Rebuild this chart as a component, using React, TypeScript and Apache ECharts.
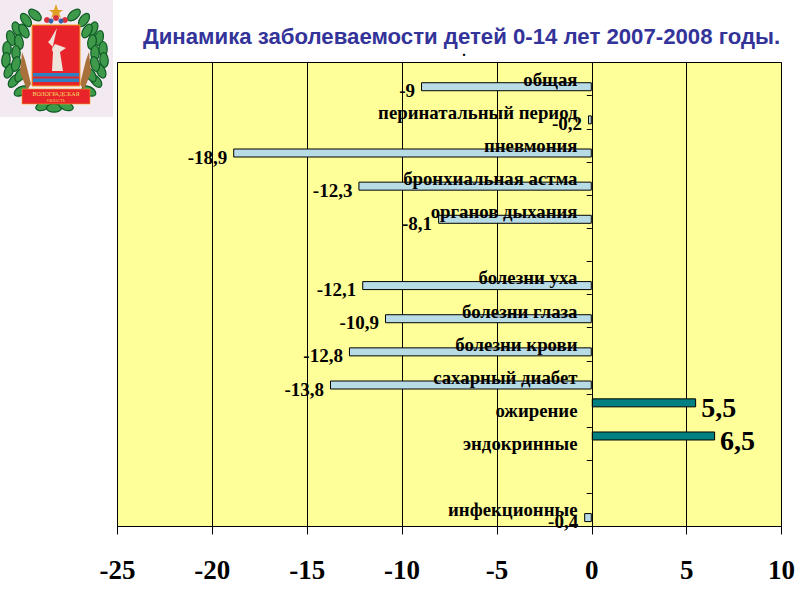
import React, { useEffect, useRef } from "react";
import * as echarts from "echarts";

const categories = ["общая", "перинатальный период", "пневмония", "бронхиальная астма", "органов дыхания", "", "болезни уха", "болезни глаза", "болезни крови", "сахарный диабет", "ожирение", "эндокринные", "", "инфекционные"];
const decline = [-9, -0.2, -18.9, -12.3, -8.1, null, -12.1, -10.9, -12.8, -13.8, null, null, null, -0.4];
const growth = [null, null, null, null, null, null, null, null, null, null, 5.5, 6.5, null, null];
const xTicks = { min: -25, max: 10, interval: 5 };
const title = "Динамика заболеваемости детей 0-14 лет 2007-2008 годы.";

const comma = (p: any) => String(p.value).replace(".", ",");
const SERIF = "'Liberation Serif', serif";

// logo wreath leaves: x, y, rotation in degrees
const leaves = [
  [35, 15, -50], [26, 20, -35], [17, 29, -25], [11, 38, -15], [7, 49, 0], [6, 60, 5], [9, 71, 25], [14, 81, 40], [21, 91, 60],
  [24, 31, -30], [19, 42, -10], [16, 53, 0], [16, 64, 15], [20, 75, 30],
  [74, 15, 50], [84, 20, 35], [93, 29, 25], [99, 38, 15], [103, 49, 0], [104, 60, -5], [101, 71, -25], [96, 81, -40], [89, 91, -60],
  [87, 31, 30], [92, 42, 10], [95, 53, 0], [95, 64, -15], [91, 75, -30],
  [43, 106, 70], [54, 108, 90], [66, 106, 110],
];

function logo() {
  const els: any[] = [
    { type: "rect", shape: { x: 0, y: 0, width: 113, height: 117 }, style: { fill: "#F3EAF1" } },
  ];
  leaves.forEach(([x, y, r]) =>
    els.push({ type: "ellipse", x, y, rotation: (-r * Math.PI) / 180, shape: { cx: 0, cy: 0, rx: 4.2, ry: 7.5 }, style: { fill: "#3E9A4A", stroke: "#0C5A24", lineWidth: 1.2 } })
  );
  els.push(
    { type: "polygon", shape: { points: [[22, 52], [25, 60], [31, 84], [27, 90], [20, 72]] }, style: { fill: "#A8703A" } },
    { type: "polygon", shape: { points: [[89, 52], [86, 60], [80, 84], [84, 90], [91, 72]] }, style: { fill: "#A8703A" } },
    { type: "polygon", shape: { points: [[56, 4], [58, 10], [63, 10], [59, 13], [61, 18], [56, 15], [51, 18], [53, 13], [49, 10], [54, 10]] }, style: { fill: "#E0A020" } },
    { type: "circle", shape: { cx: 56, cy: 18, r: 3 }, style: { fill: "#D8303A" } },
    { type: "circle", shape: { cx: 47, cy: 20, r: 3 }, style: { fill: "#D8303A" } },
    { type: "circle", shape: { cx: 65, cy: 20, r: 3 }, style: { fill: "#D8303A" } },
    { type: "circle", shape: { cx: 51, cy: 21, r: 2.5 }, style: { fill: "#3560A8" } },
    { type: "circle", shape: { cx: 61, cy: 21, r: 2.5 }, style: { fill: "#3560A8" } },
    { type: "rect", shape: { x: 32, y: 25, width: 48, height: 61 }, style: { fill: "#E8242A", stroke: "#F0A020", lineWidth: 1 } },
    { type: "rect", shape: { x: 33, y: 73, width: 46, height: 3.5 }, style: { fill: "#2F80C0" } },
    { type: "rect", shape: { x: 33, y: 78.5, width: 46, height: 3.5 }, style: { fill: "#2F80C0" } },
    { type: "polygon", shape: { points: [[57, 28], [50, 40], [48, 42], [53, 47], [55, 44], [66, 48], [60, 52], [63, 71], [52, 71], [53, 52], [52, 50]] }, style: { fill: "#EFE4DC" } },
    { type: "rect", shape: { x: 22, y: 89, width: 68, height: 15 }, style: { fill: "#E8242A", stroke: "#F0A020", lineWidth: 0.6 } },
    { type: "text", x: 56, y: 94, style: { text: "ВОЛОГРАДСКАЯ", fill: "#F6D860", font: "6px " + SERIF, align: "center", verticalAlign: "middle" } },
    { type: "text", x: 56, y: 100, style: { text: "ОБЛАСТЬ", fill: "#F6D860", font: "4px " + SERIF, align: "center", verticalAlign: "middle" } }
  );
  return els;
}

export default function App() {
  const ref = useRef<HTMLDivElement>(null);
  useEffect(() => {
    document.body.style.margin = "0";
    const chart = echarts.init(ref.current!, null, { renderer: "svg" });
    const line = { color: "#000", width: 1 };
    chart.setOption({
      animation: false,
      backgroundColor: "#fff",
      title: {
        text: title, left: 456.5, top: 20, textAlign: "center",
        textStyle: { fontFamily: "'Liberation Sans', sans-serif", fontWeight: "bold", fontSize: 22.2, color: "#333399" },
      },
      graphic: [
        ...logo(),
        { type: "text", x: 464, y: 58, style: { text: ".", fill: "#000", font: "bold 14px " + SERIF, align: "center", verticalAlign: "bottom" } },
      ],
      grid: { left: 117.5, right: 18.5, top: 62.5, bottom: 73.5, outerBoundsMode: "none", show: true, backgroundColor: "#FFFF99", borderColor: "#000", borderWidth: 1 },
      xAxis: {
        type: "value", ...xTicks, position: "bottom",
        axisLine: { show: true, onZero: false, lineStyle: line },
        axisTick: { show: true, length: 8, lineStyle: line },
        splitLine: { show: true, lineStyle: line },
        axisLabel: { margin: 30, hideOverlap: false, fontFamily: SERIF, fontWeight: "bold", fontSize: 27, color: "#000" },
      },
      yAxis: {
        type: "category", data: categories, inverse: true, z: 5,
        axisLine: { show: true, onZero: true, lineStyle: line },
        axisTick: { show: true, length: 5, lineStyle: line },
        axisLabel: { interval: 0, margin: -460, padding: [14, 0, 0, 0], fontFamily: SERIF, fontWeight: "bold", fontSize: 18.8, color: "#000" },
      },
      series: [
        {
          type: "bar", data: growth, barWidth: 9, barGap: "70%",
          itemStyle: { color: "#008080", borderColor: "#000", borderWidth: 1 },
          label: { show: true, position: "right", distance: 5, offset: [0, 5], formatter: comma, fontFamily: SERIF, fontWeight: "bold", fontSize: 28, color: "#000" },
        },
        {
          type: "bar", data: decline, barWidth: 9,
          itemStyle: { color: "#B8DCE6", borderColor: "#000", borderWidth: 1 },
          label: { show: true, position: "left", distance: 6, offset: [0, 4], formatter: comma, fontFamily: SERIF, fontWeight: "bold", fontSize: 19, color: "#000" },
        },
      ],
    });
    return () => chart.dispose();
  }, []);
  return <div ref={ref} style={{ width: 800, height: 600 }} />;
}
